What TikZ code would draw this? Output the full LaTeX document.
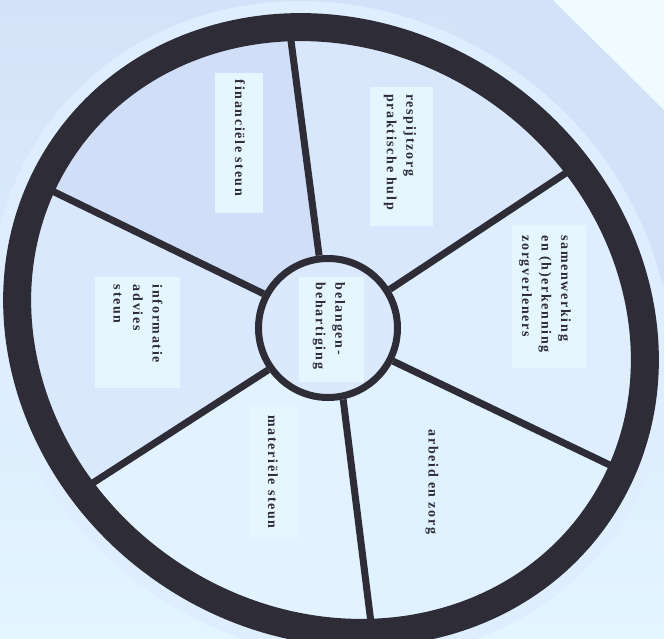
\documentclass[tikz,border=0pt]{standalone}
\usepackage{fontspec}
\setmainfont{Liberation Serif}
\usepackage{tikz}
\usetikzlibrary{calc}

\definecolor{rimdark}{HTML}{2E2D37}
\definecolor{bgtop}{HTML}{D4E2F9}
\definecolor{bgbottom}{HTML}{E3F5FF}
\definecolor{cornerlight}{HTML}{EFFBFF}
\definecolor{bandblue}{HTML}{D3E1F9}
\definecolor{halolight}{HTML}{DEEEFE}
\definecolor{secfin}{HTML}{D0DEF7}
\definecolor{secresp}{HTML}{D9E7FC}
\definecolor{secsamen}{HTML}{DEEEFF}
\definecolor{secarbeid}{HTML}{E0F1FF}
\definecolor{secmater}{HTML}{E2F3FF}
\definecolor{secinfo}{HTML}{D9E8FC}
\definecolor{hubfill}{HTML}{DBE9FC}
\definecolor{boxfill}{HTML}{E6F6FF}

\newcommand\wheelfont{\bfseries\fontsize{14}{19.5}\selectfont\addfontfeature{LetterSpace=12}}
\newcommand\rimpath{(w) circle [x radius=324pt, y radius=292pt, rotate=-35]}

\begin{document}
\begin{tikzpicture}[x=1pt,y=-1pt,
  rim/.style={draw=rimdark,line width=28pt},
  halo/.style={draw=halolight,line width=52pt},
  spoke/.style={draw=rimdark,line width=7pt},
  hub/.style={shape=circle,draw=rimdark,line width=7pt,fill=hubfill,
    minimum size=139pt,inner sep=0pt},
  sectortext/.style={rotate=-90,align=left,inner sep=0pt,text=rimdark,
    font=\wheelfont},
  textbox/.style={fill=boxfill}]
  \useasboundingbox (0,0) rectangle (664,638);
  \clip (0,0) rectangle (664,638);

  % background
  \shade[top color=bgtop,bottom color=bgbottom] (0,0) rectangle (664,638);
  \fill[bandblue] (436,0) -- (553,0) -- (664,110) -- (664,285) -- cycle;
  \fill[cornerlight] (553,0) -- (664,0) -- (664,110) -- cycle;

  % wheel
  \coordinate (w) at (331,330);
  \coordinate (c) at (328,328);
  \coordinate (rim1) at (290,33);
  \coordinate (rim2) at (575,167);
  \coordinate (rim3) at (616,468);
  \coordinate (rim4) at (372,631);
  \coordinate (rim5) at (85,488);
  \coordinate (rim6) at (42,186);

  \draw[halo] \rimpath;
  \begin{scope}
    \clip \rimpath;
    \fill[secresp] (c) -- ($(c)!2!(rim1)$) -- ($(c)!2!(rim2)$) -- cycle;
    \fill[secsamen] (c) -- ($(c)!2!(rim2)$) -- ($(c)!2!(rim3)$) -- cycle;
    \fill[secarbeid] (c) -- ($(c)!2!(rim3)$) -- ($(c)!2!(rim4)$) -- cycle;
    \fill[secmater] (c) -- ($(c)!2!(rim4)$) -- ($(c)!2!(rim5)$) -- cycle;
    \fill[secinfo] (c) -- ($(c)!2!(rim5)$) -- ($(c)!2!(rim6)$) -- cycle;
    \fill[secfin] (c) -- ($(c)!2!(rim6)$) -- ($(c)!2!(rim1)$) -- cycle;
  \end{scope}

  % boxes
  \fill[textbox] (215,73) rectangle (263,213);
  \fill[textbox] (370,87) rectangle (433,226);
  \fill[textbox] (512,225) rectangle (586,368);
  \fill[textbox] (95,277) rectangle (180,388);
  \fill[textbox] (250,405) rectangle (298,540);

  \node[hub] (hub) at (c) {};
  \fill[textbox] (299,277) rectangle (364,382);

  \path (hub.97) edge[spoke] (rim1);
  \path (hub.32) edge[spoke] (rim2);
  \path (hub.-27) edge[spoke] (rim3);
  \path (hub.-78) edge[spoke] (rim4);
  \path (hub.-145) edge[spoke] (rim5);
  \path (hub.152) edge[spoke] (rim6);

  \draw[rim] \rimpath;

  % texts
  \node[sectortext] (fin) at (240,138) {financiële steun};
  \node[sectortext] (resp) at (400,152) {respijtzorg\\praktische hulp};
  \node[sectortext] (samen) at (545,294) {samenwerking\\en (h)erkenning\\zorgverleners};
  \node[sectortext] (info) at (138,324) {informatie\\advies\\steun};
  \node[sectortext] (belang) at (329,326) {belangen-\\behartiging};
  \node[sectortext] (mater) at (273,472) {materiële steun};
  \node[sectortext] (arbeid) at (432,482) {arbeid en zorg};
\end{tikzpicture}
\end{document}
